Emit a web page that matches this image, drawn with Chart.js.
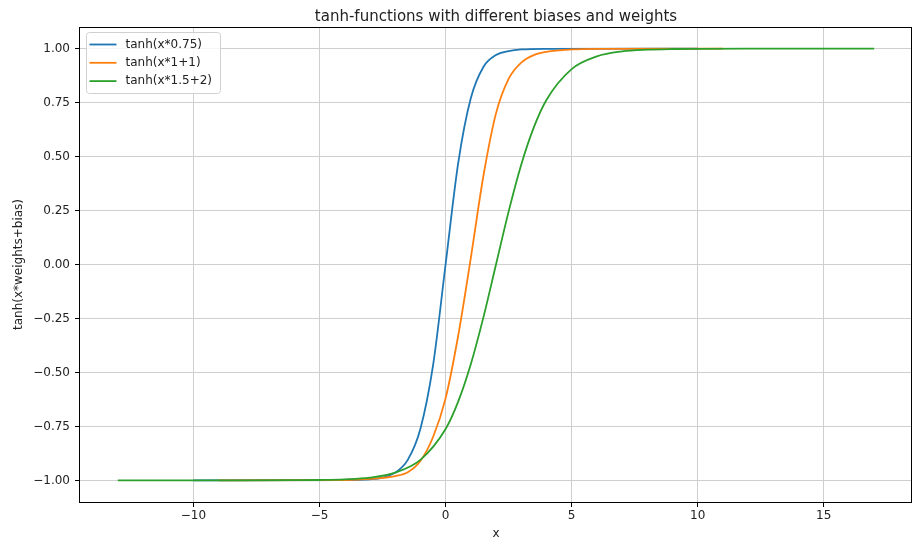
<!DOCTYPE html>
<html>
<head>
<meta charset="utf-8">
<script src="https://cdn.jsdelivr.net/npm/chart.js@4.4.0/dist/chart.umd.min.js"></script>
<style>
    html, body { margin: 0; padding: 0; background: #fff; }
</style>
</head>
<body>
<canvas id="grafico" width="915" height="544"></canvas>
<script>
// Dados
var titulo = 'tanh-functions with different biases and weights'
var rotulos = ['tanh(x*0.75)', 'tanh(x*1+1)', 'tanh(x*1.5+2)']
var cores = ['#1f77b4', '#ff7f0e', '#2ca02c']

var azulX = [-10, -4, -3, -2.5, -2, -1.5, -1, -0.5, 0, 0.5, 1, 1.5, 2, 2.5, 3, 4, 10]
var azulY = [-1, -0.999, -0.995, -0.987, -0.964, -0.905, -0.762, -0.47, 0, 0.47, 0.77, 0.915, 0.97, 0.988, 0.996, 0.999, 1]

var laranjaX = [-9, -4, -3, -2, -1.5, -1, -0.5, 0, 0.5, 1, 1.5, 2, 2.5, 3, 3.5, 4, 5, 6, 11]
var laranjaY = [-1, -0.998, -0.993, -0.98, -0.962, -0.91, -0.8, -0.62, -0.33, 0.03, 0.41, 0.7, 0.86, 0.935, 0.97, 0.985, 0.996, 0.999, 1]

var verdeX = [-13, -8, -6, -5, -4, -3, -2, -1, 0, 0.5, 1, 1.5, 2, 2.5, 3, 3.5, 4, 5, 6, 7, 8, 9, 10, 12, 17]
var verdeY = [-1, -1, -0.999, -0.998, -0.995, -0.987, -0.964, -0.905, -0.762, -0.635, -0.462, -0.245, 0, 0.245, 0.462, 0.635, 0.762, 0.905, 0.964, 0.987, 0.995, 0.998, 0.999, 1, 1]

// Marcas dos eixos
var xTicks = [-10, -5, 0, 5, 10, 15]
var xTickLabels = ['\u221210', '\u22125', '0', '5', '10', '15']
var yTicks = [-1, -0.75, -0.5, -0.25, 0, 0.25, 0.5, 0.75, 1]
var yTickLabels = ['\u22121.00', '\u22120.75', '\u22120.50', '\u22120.25', '0.00', '0.25', '0.50', '0.75', '1.00']

var fonte = 'DejaVu Sans'

function pontos(xs, ys) {
    return xs.map((x, i) => ({ x: x, y: ys[i] }))
}

// Moldura completa + título centrado sobre a área do gráfico
var moldura = {
    id: 'moldura',
    afterDatasetsDraw(chart) {
        let a = chart.chartArea
        let ctx = chart.ctx
        ctx.save()
        ctx.strokeStyle = '#000'
        ctx.lineWidth = 1
        ctx.strokeRect(Math.round(a.left) - 0.5, Math.round(a.top) + 0.5, Math.round(a.right - a.left), Math.round(a.bottom - a.top))
        ctx.font = '15px ' + fonte
        ctx.fillStyle = '#222'
        ctx.textAlign = 'center'
        ctx.textBaseline = 'alphabetic'
        ctx.fillText(titulo, (a.left + a.right) / 2, a.top - 6)
        ctx.restore()
    }
}

// Legenda dentro do gráfico, canto superior esquerdo
var legenda = {
    id: 'legenda',
    afterDraw(chart) {
        let a = chart.chartArea
        let ctx = chart.ctx
        let x0 = Math.round(a.left) + 6.5
        let y0 = Math.round(a.top) + 5.5
        ctx.save()
        ctx.beginPath()
        ctx.roundRect(x0, y0, 134, 61, 3)
        ctx.fillStyle = 'rgba(255,255,255,0.8)'
        ctx.fill()
        ctx.strokeStyle = '#d0d0d0'
        ctx.lineWidth = 1
        ctx.stroke()
        ctx.font = '12px ' + fonte
        ctx.textBaseline = 'middle'
        for (let i = 0; i < rotulos.length; i++) {
            let y = y0 + 12 + i * 18.3
            ctx.strokeStyle = cores[i]
            ctx.lineWidth = 1.8
            ctx.beginPath()
            ctx.moveTo(x0 + 3, y)
            ctx.lineTo(x0 + 30, y)
            ctx.stroke()
            ctx.fillStyle = '#222'
            ctx.fillText(rotulos[i], x0 + 39, y)
        }
        ctx.restore()
    }
}

function serie(i, xs, ys, ordem) {
    return {
        label: rotulos[i],
        data: pontos(xs, ys),
        borderColor: cores[i],
        backgroundColor: cores[i],
        borderWidth: 1.8,
        pointRadius: 0,
        cubicInterpolationMode: 'monotone',
        fill: false,
        order: ordem
    }
}

var grafico = new Chart(document.getElementById('grafico').getContext('2d'), {
    type: 'line',
    data: {
        datasets: [
            serie(0, azulX, azulY, 3),
            serie(1, laranjaX, laranjaY, 2),
            serie(2, verdeX, verdeY, 1)
        ]
    },
    options: {
        responsive: false,
        animation: false,
        layout: { padding: { left: 0, right: 3, top: 27, bottom: 0 } },
        plugins: {
            legend: { display: false },
            tooltip: { enabled: false },
            title: { display: false }
        },
        scales: {
            x: {
                type: 'linear',
                min: -14.5,
                max: 18.5,
                afterBuildTicks: (axis) => { axis.ticks = xTicks.map(v => ({ value: v })) },
                afterFit: (axis) => { axis.height = 42 },
                ticks: {
                    color: '#222',
                    font: { family: fonte, size: 12 },
                    padding: 2,
                    maxRotation: 0,
                    callback: (v) => xTickLabels[xTicks.indexOf(v)]
                },
                grid: { color: '#cfcfcf', lineWidth: 1, tickLength: 5, tickColor: '#000' },
                border: { display: false },
                title: {
                    display: true,
                    text: 'x',
                    color: '#222',
                    font: { family: fonte, size: 12 },
                    padding: { top: 0, bottom: 3 }
                }
            },
            y: {
                type: 'linear',
                min: -1.1,
                max: 1.1,
                afterBuildTicks: (axis) => { axis.ticks = yTicks.map(v => ({ value: v })) },
                afterFit: (axis) => { axis.width = 80 },
                ticks: {
                    color: '#222',
                    font: { family: fonte, size: 12 },
                    padding: 5,
                    callback: (v) => yTickLabels[yTicks.indexOf(v)]
                },
                grid: { color: '#cfcfcf', lineWidth: 1, tickLength: 5, tickColor: '#000' },
                border: { display: false },
                title: {
                    display: true,
                    text: 'tanh(x*weights+bias)',
                    color: '#222',
                    font: { family: fonte, size: 12 },
                    padding: { top: 12, bottom: 0 }
                }
            }
        }
    },
    plugins: [moldura, legenda]
})
</script>
</body>
</html>
